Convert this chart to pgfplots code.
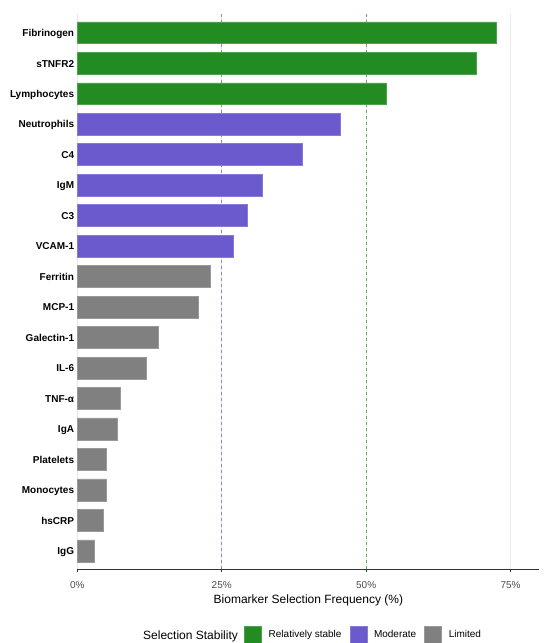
\documentclass[border=0pt]{standalone}
\usepackage{fontspec}
\setmainfont{Liberation Sans}
\usepackage{pgfplots}
\pgfplotsset{compat=1.18}
\definecolor{cgreen}{RGB}{34,139,34}
\definecolor{cpurple}{RGB}{106,90,205}
\definecolor{cgray}{RGB}{128,128,128}
\definecolor{ctick}{RGB}{77,77,77}
\pgfplotsset{sqlegend/.style={legend image code/.code={\draw[##1] (0pt,-8.5pt) rectangle (17pt,8.5pt);}}}
\begin{document}
\begin{tikzpicture}
\path[use as bounding box] (-77.3pt,-73.9pt) rectangle (472.7pt,569.1pt);
\begin{axis}[
  at={(0pt,0pt)}, anchor=south west,
  scale only axis, width=462.2pt, height=554.6pt,
  xmin=0, xmax=80, ymin=0.4, ymax=18.6,
  enlargelimits=false, clip=false,
  axis x line*=bottom, axis y line*=left,
  y axis line style={draw=none},
  x axis line style={draw=black!80, line width=0.9pt},
  tick align=outside, major tick length=3pt,
  xtick={0,25,50,75}, xticklabels={0\%,25\%,50\%,75\%},
  xtick style={draw=black!80, line width=0.8pt},
  ytick={1,...,18},
  yticklabels={IgG,hsCRP,Monocytes,Platelets,IgA,TNF-α,IL-6,Galectin-1,MCP-1,Ferritin,VCAM-1,C3,IgM,C4,Neutrophils,Lymphocytes,sTNFR2,Fibrinogen},
  ytick style={draw=none},
  xticklabel style={anchor=base, inner sep=0pt, yshift=-15.9pt, text=ctick, font=\fontsize{10}{12}\selectfont},
  yticklabel style={anchor=base east, inner sep=0pt, xshift=0pt, yshift=-3.8pt, font=\bfseries\fontsize{10}{12}\selectfont},
  xmajorgrids, ymajorgrids=false,
  major grid style={draw=black!9, line width=0.8pt},
  xlabel={Biomarker Selection Frequency (\%)},
  xlabel style={at={(axis description cs:0.5,0)}, anchor=base, yshift=-34.2pt, inner sep=0pt, font=\fontsize{12}{14}\selectfont},
  legend style={at={(axis description cs:0.3607,-0.1179)}, anchor=west, draw=none, fill=none, inner sep=0pt,
    legend columns=3, font=\fontsize{10}{12}\selectfont,
    /tikz/every odd column/.append style={column sep=7pt},
    /tikz/every even column/.append style={column sep=8pt},
    nodes={inner sep=0pt}},
]
\addplot[forget plot, cpurple!75!white, line width=1pt, dash pattern=on 3.5pt off 2.5pt] coordinates {(25,0.4) (25,18.6)};
\addplot[forget plot, cgreen!70!white, line width=1pt, dash pattern=on 3.5pt off 2.5pt] coordinates {(50,0.4) (50,18.6)};

\addplot[xbar, bar shift=0pt, bar width=0.72, fill=cgreen, draw=cgreen!80!white, line width=0.5pt, sqlegend]
  coordinates {(72.5,18) (69.0,17) (53.5,16)};
\addlegendentry{Relatively stable}
\addplot[xbar, bar shift=0pt, bar width=0.72, fill=cpurple, draw=cpurple!80!white, line width=0.5pt, sqlegend]
  coordinates {(45.5,15) (39.0,14) (32.0,13) (29.5,12) (27.0,11)};
\addlegendentry{Moderate}
\addplot[xbar, bar shift=0pt, bar width=0.72, fill=cgray, draw=cgray!80!white, line width=0.5pt, sqlegend]
  coordinates {(23.0,10) (21.0,9) (14.0,8) (12.0,7) (7.5,6) (7.0,5) (5.0,4) (5.0,3) (4.5,2) (3.0,1)};
\addlegendentry{Limited}

\node[anchor=base west, inner sep=0pt, font=\fontsize{12}{14}\selectfont] at (axis description cs:0.1421,-0.1268) {Selection Stability};
\end{axis}
\end{tikzpicture}
\end{document}
